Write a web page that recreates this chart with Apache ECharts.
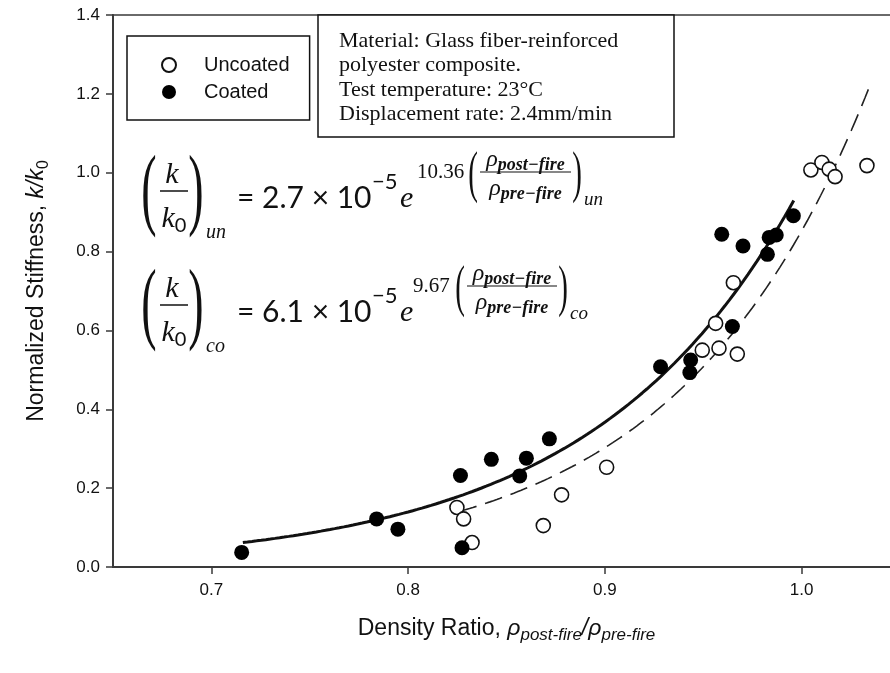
<!DOCTYPE html>
<html>
<head>
<meta charset="utf-8">
<script src="https://cdn.jsdelivr.net/npm/echarts@6/dist/echarts.min.js"></script>
<style>
  html, body { margin: 0; padding: 0; background: #fff; }
  #chart { width: 890px; height: 673px; }
</style>
</head>
<body>
<div id="chart"></div>
<script>
// Density ratio (post-fire / pre-fire) and normalized stiffness k/k0
const uncoatedX = [0.8248, 0.8282, 0.8325, 0.8687, 0.8780, 0.9009, 0.9495, 0.9563, 0.9580, 0.9653, 0.9673, 1.0047, 1.0103, 1.0140, 1.0170, 1.0332];
const uncoatedY = [0.151, 0.122, 0.062, 0.105, 0.183, 0.253, 0.550, 0.618, 0.555, 0.721, 0.540, 1.007, 1.026, 1.009, 0.990, 1.018];

const coatedX = [0.7154, 0.7840, 0.7948, 0.8266, 0.8274, 0.8423, 0.8567, 0.8601, 0.8718, 0.9283, 0.9432, 0.9436, 0.9594, 0.9648, 0.9702, 0.9826, 0.9835, 0.9871, 0.9958];
const coatedY = [0.037, 0.122, 0.096, 0.232, 0.049, 0.273, 0.231, 0.276, 0.325, 0.508, 0.493, 0.525, 0.844, 0.610, 0.814, 0.793, 0.836, 0.842, 0.891];

// Exponential fits k/k0 = a * exp(b * ratio), with the range each is drawn over
const fitUncoated = [2.7e-5, 10.36];
const fitUncoatedRange = [0.826, 1.034];
const fitCoated = [6.1e-5, 9.67];
const fitCoatedRange = [0.716, 0.996];

const xTickValues = [0.7, 0.8, 0.9, 1.0];
const yTickValues = [0.0, 0.2, 0.4, 0.6, 0.8, 1.0, 1.2, 1.4];

const noteLines = [
  'Material: Glass fiber-reinforced',
  'polyester composite.',
  'Test temperature: 23°C',
  'Displacement rate: 2.4mm/min'
];

function fitCurve(coef, range, steps) {
  const pts = [];
  for (let i = 0; i <= steps; i++) {
    const x = range[0] + (range[1] - range[0]) * i / steps;
    pts.push([x, coef[0] * Math.exp(coef[1] * x)]);
  }
  return pts;
}
function zip(xs, ys) { return xs.map((x, i) => [x, ys[i]]); }

const SANS = 'Liberation Sans';
const SERIF = 'Liberation Serif';
const MATH = 'Lato';
const INK = '#111';

function txt(x, y, text, size, family, extra) {
  return {
    type: 'text', x: x, y: y, z: 20,
    style: Object.assign({
      text: text, fontSize: size, fontFamily: family, fill: INK,
      align: 'left', verticalAlign: 'middle'
    }, extra || {})
  };
}
function hline(x1, x2, y, w) {
  return { type: 'line', z: 20, shape: { x1: x1, y1: y, x2: x2, y2: y }, style: { stroke: INK, lineWidth: w || 1.5 } };
}
function paren(x, y, ch, size, sx) {
  return {
    type: 'text', x: x, y: y, z: 20, scaleX: sx,
    style: { text: ch, fontSize: size, fontFamily: SERIF, fill: INK, align: 'center', verticalAlign: 'middle' }
  };
}

const richRho = {
  r: { fontSize: 24, fontFamily: SERIF, fontStyle: 'italic', fill: INK, lineHeight: 28, verticalAlign: 'middle' },
  p: { fontSize: 18, fontFamily: SERIF, fontStyle: 'italic', fontWeight: 'bold', fill: INK, lineHeight: 14, verticalAlign: 'bottom' }
};
const richK = {
  k: { fontSize: 30, fontFamily: SERIF, fontStyle: 'italic', fill: INK, lineHeight: 34, verticalAlign: 'middle' },
  z: { fontSize: 20, fontFamily: MATH, fill: INK, lineHeight: 12, verticalAlign: 'bottom' }
};

// One fitted-equation block, shifted down by dy
function equation(dy, coefText, expText, sub, expLeft, fracLeft, fracRight) {
  const els = [];
  els.push(paren(149, 194 + dy, '(', 92, 0.5));
  els.push(txt(172, 175 + dy, 'k', 30, SERIF, { fontStyle: 'italic', align: 'center' }));
  els.push(hline(160, 188, 191 + dy, 1.5));
  els.push({ type: 'text', x: 174, y: 219 + dy, z: 20, style: { text: '{k|k}{z|0}', rich: richK, align: 'center', verticalAlign: 'middle' } });
  els.push(paren(196, 194 + dy, ')', 92, 0.5));
  els.push(txt(206, 233 + dy, sub, 20, SERIF, { fontStyle: 'italic' }));
  els.push(txt(237, 198 + dy, '= ' + coefText + ' × 10', 30, MATH));
  els.push(txt(372, 182 + dy, '−5', 22, MATH));
  els.push(txt(400, 199 + dy, 'e', 30, SERIF, { fontStyle: 'italic' }));
  els.push(txt(expLeft, 172 + dy, expText, 21, SERIF));
  els.push(paren(fracLeft - 7, 176 + dy, '(', 58, 0.5));
  els.push({ type: 'text', x: (fracLeft + fracRight) / 2, y: 160 + dy, z: 20, style: { text: '{r|ρ}{p|post−fire}', rich: richRho, align: 'center', verticalAlign: 'middle' } });
  els.push(hline(fracLeft, fracRight, 172 + dy, 1.2));
  els.push({ type: 'text', x: (fracLeft + fracRight) / 2, y: 189 + dy, z: 20, style: { text: '{r|ρ}{p|pre−fire}', rich: richRho, align: 'center', verticalAlign: 'middle' } });
  els.push(paren(fracRight + 6, 176 + dy, ')', 58, 0.5));
  els.push(txt(fracRight + 13, 200 + dy, sub, 19, SERIF, { fontStyle: 'italic' }));
  return els;
}

const graphics = [
  {
    type: 'rect', z: 15,
    shape: { x: 318, y: 15, width: 356, height: 122 },
    style: { fill: '#fff', stroke: INK, lineWidth: 1.5 }
  },
  {
    type: 'text', x: 339, y: 29, z: 20,
    style: { text: noteLines.join('\n'), fontSize: 22, fontFamily: SERIF, fill: INK, lineHeight: 24.3, align: 'left', verticalAlign: 'top' }
  }
].concat(
  equation(0, '2.7', '10.36', 'un', 417, 480, 571),
  equation(114, '6.1', '9.67', 'co', 413, 467, 557)
);

const chart = echarts.init(document.getElementById('chart'), null, { renderer: 'canvas' });

chart.setOption({
  animation: false,
  backgroundColor: '#fff',
  grid: {
    left: 113, top: 15, width: 787, bottom: 106,
    outerBoundsMode: 'none',
    containLabel: false,
    show: true, borderColor: '#3a3a3a', borderWidth: 1.5
  },
  legend: {
    left: 127, top: 36,
    orient: 'vertical',
    padding: [18, 20, 17, 34],
    itemGap: 5, itemWidth: 14, itemHeight: 14,
    borderColor: INK, borderWidth: 1.5,
    textStyle: { fontSize: 20, fontFamily: SANS, color: INK, lineHeight: 22, padding: [0, 0, 0, 23] },
    data: [{ name: 'Uncoated', icon: 'circle' }, { name: 'Coated', icon: 'circle' }]
  },
  xAxis: {
    type: 'value', min: 0.65, max: 1.05, interval: 0.05,
    name: '{t|Density Ratio, }{r|ρ}{s|post-fire}{r|/ρ}{s|pre-fire}',
    nameLocation: 'middle', nameGap: 47,
    nameTextStyle: {
      rich: {
        t: { fontSize: 23, fontFamily: SANS, color: INK, lineHeight: 30, verticalAlign: 'middle' },
        r: { fontSize: 23, fontFamily: SANS, fontStyle: 'italic', color: INK, lineHeight: 30, verticalAlign: 'middle' },
        s: { fontSize: 17, fontFamily: SANS, fontStyle: 'italic', color: INK, lineHeight: 13, verticalAlign: 'bottom' }
      }
    },
    axisLine: { lineStyle: { color: '#3a3a3a', width: 2 } },
    axisTick: { length: 7, lineStyle: { color: '#3a3a3a', width: 1.5 }, customValues: xTickValues },
    axisLabel: { fontSize: 17, fontFamily: SANS, color: INK, margin: 15, customValues: xTickValues, formatter: v => v.toFixed(1) },
    splitLine: { show: false }
  },
  yAxis: {
    type: 'value', min: 0, max: 1.4, interval: 0.2,
    name: '{t|Normalized Stiffness, }{r|k/k}{s|0}',
    nameLocation: 'middle', nameGap: 61, nameRotate: 90,
    nameTextStyle: {
      rich: {
        t: { fontSize: 23, fontFamily: SANS, color: INK, lineHeight: 30, verticalAlign: 'middle' },
        r: { fontSize: 23, fontFamily: SANS, fontStyle: 'italic', color: INK, lineHeight: 30, verticalAlign: 'middle' },
        s: { fontSize: 16, fontFamily: SANS, color: INK, lineHeight: 13, verticalAlign: 'bottom' }
      }
    },
    axisLine: { show: true, lineStyle: { color: '#3a3a3a', width: 2 } },
    axisTick: { show: true, length: 7, lineStyle: { color: '#3a3a3a', width: 1.5 } },
    axisLabel: { fontSize: 17, fontFamily: SANS, color: INK, margin: 13, formatter: v => v.toFixed(1) },
    splitLine: { show: false }
  },
  graphic: graphics,
  series: [
    {
      name: 'Coated fit', type: 'line', z: 2,
      data: fitCurve(fitCoated, fitCoatedRange, 120),
      showSymbol: false, smooth: false,
      lineStyle: { color: '#111', width: 3 }
    },
    {
      name: 'Uncoated fit', type: 'line', z: 2,
      data: fitCurve(fitUncoated, fitUncoatedRange, 120),
      showSymbol: false, smooth: false,
      lineStyle: { color: '#222', width: 1.6, type: [18, 9] }
    },
    {
      name: 'Uncoated', type: 'scatter', z: 5,
      data: zip(uncoatedX, uncoatedY),
      symbol: 'circle', symbolSize: 14,
      itemStyle: { color: '#fff', borderColor: '#111', borderWidth: 1.6, opacity: 1 }
    },
    {
      name: 'Coated', type: 'scatter', z: 6,
      data: zip(coatedX, coatedY),
      symbol: 'circle', symbolSize: 15,
      itemStyle: { color: '#000', opacity: 1 }
    }
  ]
});
</script>
</body>
</html>
